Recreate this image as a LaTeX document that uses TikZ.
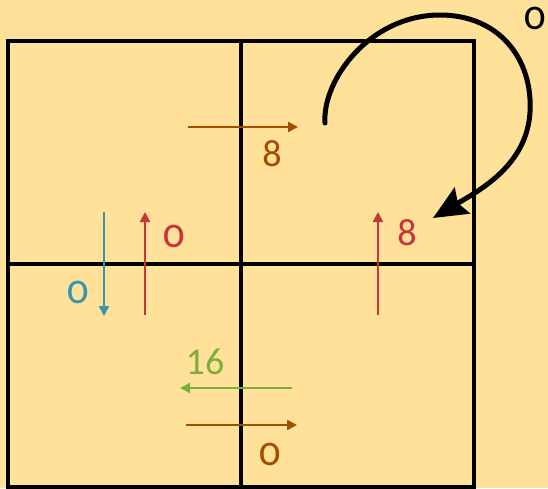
\documentclass[tikz,border=0pt]{standalone}
\usepackage{fontspec}
\setmainfont{Carlito}
\usetikzlibrary{arrows.meta}
\definecolor{Paper}{HTML}{FFE19A}
\definecolor{Rust}{HTML}{A34D00}
\definecolor{Brick}{HTML}{C8323A}
\definecolor{Teal}{HTML}{3895B0}
\definecolor{Leaf}{HTML}{7DAE3C}

\begin{document}
\begin{tikzpicture}[x=1pt,y=-1pt,
  flow/.style={line width=2.2pt,-{Triangle[length=10pt,width=10pt]}},
  val/.style={inner sep=0pt,font=\fontsize{38}{38}\selectfont},
  zero/.style={val,font=\fontsize{42}{42}\selectfont\addfontfeatures{Numbers=OldStyle}}]
\fill[Paper] (0,0) rectangle (548,488);
\useasboundingbox (0,0) rectangle (548,488);
% grid
\draw[line width=3.6pt] (8,41) rectangle (474,487);
\draw[line width=3.6pt] (241,41) -- (241,487);
\draw[line width=3.6pt] (8,264) -- (474,264);
% end points of the flows
\coordinate (rtA) at (188,127);
\coordinate (rtB) at (298,127);
\coordinate (blA) at (104,212);
\coordinate (blB) at (104,316);
\coordinate (rdA) at (145,315);
\coordinate (rdB) at (145,212);
\coordinate (reA) at (378,315);
\coordinate (reB) at (378,212);
\coordinate (grA) at (292,388);
\coordinate (grB) at (180,388);
\coordinate (rbA) at (186,425);
\coordinate (rbB) at (297,425);
\coordinate (loopA) at (325,123);
\coordinate (loopT) at (440,15);
\coordinate (loopR) at (530,112);
\coordinate (loopB) at (433,218);
% flows
\draw[flow,Rust] (rtA) -- (rtB);
\draw[flow,Teal] (blA) -- (blB);
\draw[flow,Brick] (rdA) -- (rdB);
\draw[flow,Brick] (reA) -- (reB);
\draw[flow,Leaf] (grA) -- (grB);
\draw[flow,Rust] (rbA) -- (rbB);
\draw[line width=5pt,line cap=round,-{Stealth[length=34pt,width=30pt,inset=5pt]}]
  (loopA) .. controls (322,80) and (370,15) .. (loopT)
  .. controls (500,15) and (533,60) .. (loopR)
  .. controls (527,165) and (480,190) .. (loopB);
% values
\node[val,text=Rust] (vrt) at (272,154) {8};
\node[zero,text=Teal] (vbl) at (78,292) {0};
\node[zero,text=Brick] (vrd) at (174,236) {0};
\node[val,text=Brick] (vre) at (407,233) {8};
\node[val,text=Leaf] (vgr) at (205,362) {16};
\node[zero,text=Rust] (vrb) at (270,454) {0};
\node[zero] (vlp) at (535,18) {0};
\end{tikzpicture}
\end{document}
